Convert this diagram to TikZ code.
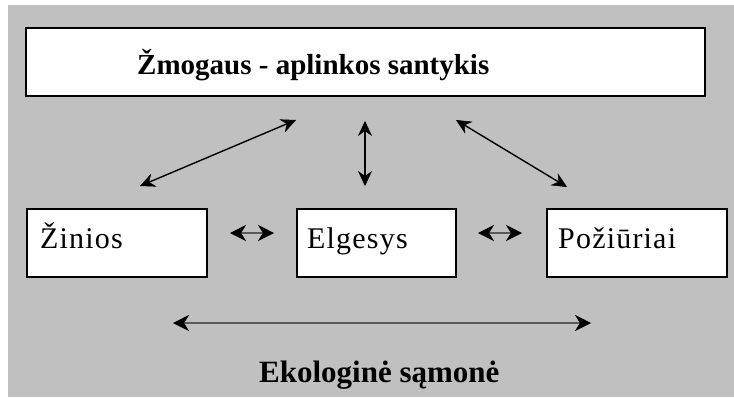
\documentclass[tikz,border=0pt]{standalone}
\usepackage{fontspec}
\setmainfont{Liberation Serif}
\usetikzlibrary{arrows.meta}
\definecolor{bggray}{HTML}{C0C0C0}
\begin{document}
\begin{tikzpicture}[x=1pt,y=-1pt,
  box/.style={draw=black,line width=1.6pt,fill=white,inner sep=0pt},
  lbl/.style={anchor=base west,inner sep=0pt,font=\fontsize{30}{31}\selectfont\addfontfeature{LetterSpace=4}},
  ttl/.style={anchor=base west,inner sep=0pt,font=\fontsize{29}{31}\selectfont\bfseries},
  tipA/.tip={Stealth[length=15pt,width=14pt,inset=5pt,line width=0.5pt,color=black,fill=black]},
  tipB/.tip={Stealth[length=16pt,width=16pt,inset=5pt,line width=0.5pt,color=black,fill=black]},
  link/.style={line width=1.4pt,tipA-tipA},
  hlink/.style={line width=2.6pt,draw=black!65,tipB-tipB}
]
\useasboundingbox (0,0) rectangle (734,397);
\fill[white] (0,0) rectangle (734,397);
\fill[bggray] (8,5) rectangle (734,397);

% boxes
\node[box,minimum width=679pt,minimum height=68pt] (top) at (365.5,62) {};
\node[box,minimum width=180pt,minimum height=68pt] (zin) at (117,243) {};
\node[box,minimum width=159pt,minimum height=68pt] (elg) at (376.5,243) {};
\node[box,minimum width=180pt,minimum height=68pt] (poz) at (637,243) {};

% texts
\node[ttl] (toptxt) at (137,74) {Žmogaus - aplinkos santykis};
\node[lbl] (zintxt) at (40,248) {Žinios};
\node[lbl] (elgtxt) at (307,248) {Elgesys};
\node[lbl] (poztxt) at (558,248) {Požiūriai};
\node[ttl,font=\fontsize{31}{32}\selectfont\bfseries] (eko) at (259,382) {Ekologinė sąmonė};

% arrow ends
\coordinate (l1) at (140,186);
\coordinate (l2) at (296,120);
\coordinate (v1) at (365,121);
\coordinate (v2) at (365,186);
\coordinate (r1) at (456,120);
\coordinate (r2) at (567,187);
\coordinate (h1a) at (230,233);
\coordinate (h1b) at (274,233);
\coordinate (h2a) at (478,233);
\coordinate (h2b) at (522,233);
\coordinate (b1) at (173,323);
\coordinate (b2) at (591,323);

\draw[link] (l1) -- (l2);
\draw[link] (v1) -- (v2);
\draw[link] (r1) -- (r2);
\draw[hlink] (h1a) -- (h1b);
\draw[hlink] (h2a) -- (h2b);
\draw[hlink] (b1) -- (b2);
\end{tikzpicture}
\end{document}
